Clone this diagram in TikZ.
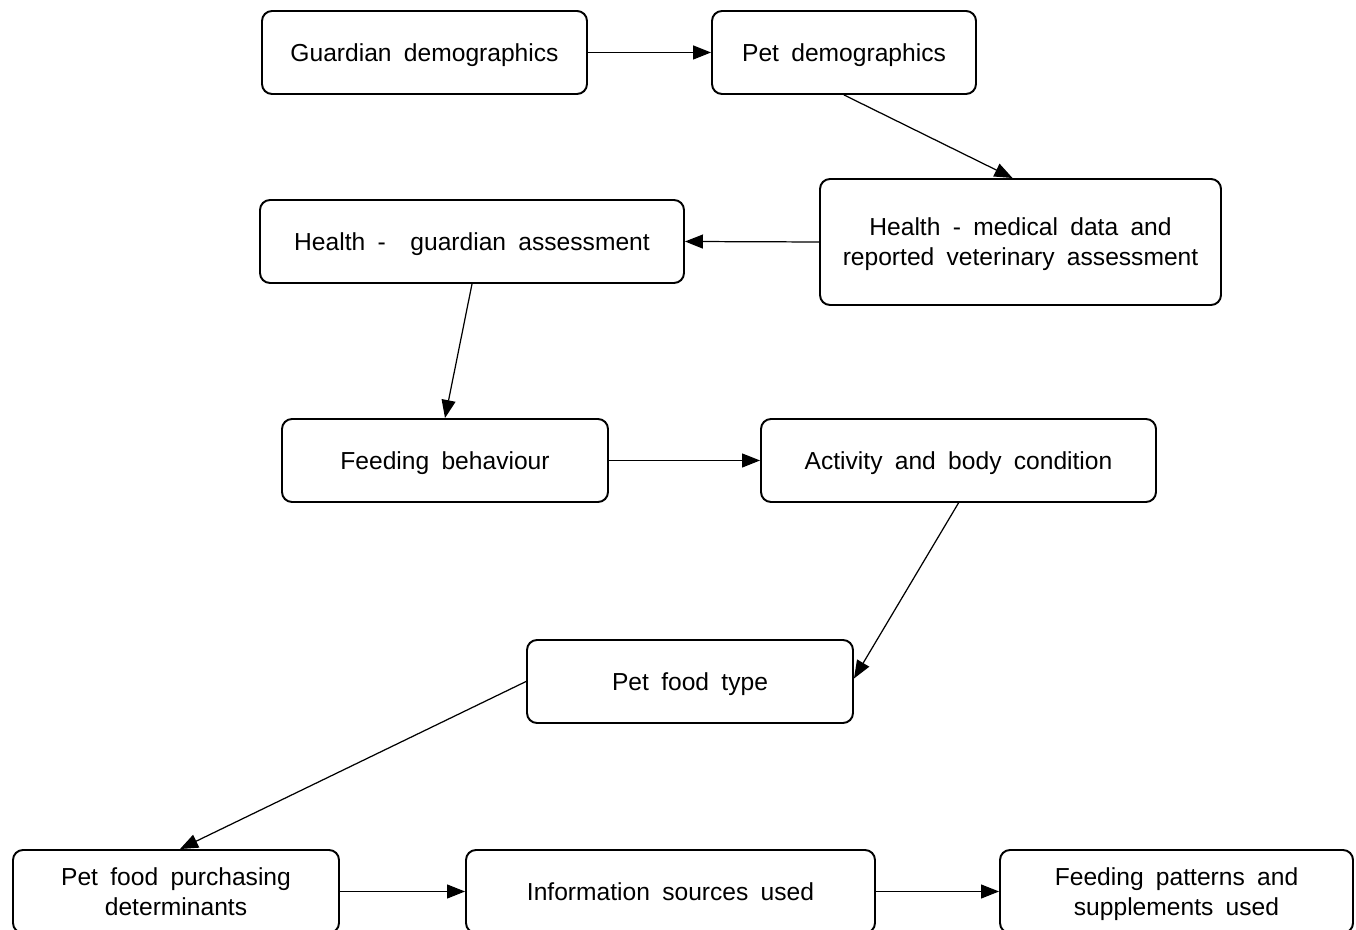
\documentclass[tikz,border=0pt]{standalone}
\usepackage{fontspec}
\setmainfont{Liberation Sans}[WordSpace={1.8}]
\usetikzlibrary{arrows.meta,calc}
\begin{document}
\begin{tikzpicture}[x=0.1mm,y=-0.1mm,
  box/.style={draw, line width=0.55pt, rounded corners=1mm, minimum height=8.3mm,
    align=center, font=\fontsize{7}{8.5}\selectfont, inner sep=0pt, text depth=0pt},
  arr/.style={line width=0.35pt, -{Triangle[length=1.8mm,width=1.4mm]}}]
\useasboundingbox (0,0) rectangle (1356,930);
\node[box, minimum width=32.5mm] (gd) at (424.5,52.5) {Guardian demographics};
\node[box, minimum width=26.4mm] (pd) at (844,52.5) {Pet demographics};
\node[box, minimum width=40.1mm, minimum height=12.6mm] (hm) at (1020.5,242) {Health - medical data and\\reported veterinary assessment};
\node[box, minimum width=42.4mm] (hg) at (472,241.5) {Health -\ \ guardian assessment};
\node[box, minimum width=32.6mm] (fb) at (445,460.5) {Feeding behaviour};
\node[box, minimum width=39.5mm] (ab) at (958.5,460.5) {Activity and body condition};
\node[box, minimum width=32.6mm] (pf) at (690,681.5) {Pet food type};
\node[box, minimum width=32.6mm] (pp) at (176,891.5) {Pet food purchasing\\determinants};
\node[box, minimum width=40.9mm] (is) at (670.5,891.5) {Information sources used};
\node[box, minimum width=35.3mm] (fp) at (1176.5,891.5) {Feeding patterns and\\supplements used};
\draw[arr] (gd.east) -- (pd.west);
\draw[arr] (pd.south) -- ($(hm.north)+(-8,0)$);
\draw[arr] (hm.west) -- (hg.east);
\draw[arr] (hg.south) -- (fb.north);
\draw[arr] (fb.east) -- (ab.west);
\draw[arr] (ab.south) -- ($(pf.east)+(0,-3)$);
\draw[arr] (pf.west) -- ($(pp.north)+(4,0)$);
\draw[arr] (pp.east) -- (is.west);
\draw[arr] (is.east) -- (fp.west);
\end{tikzpicture}
\end{document}
